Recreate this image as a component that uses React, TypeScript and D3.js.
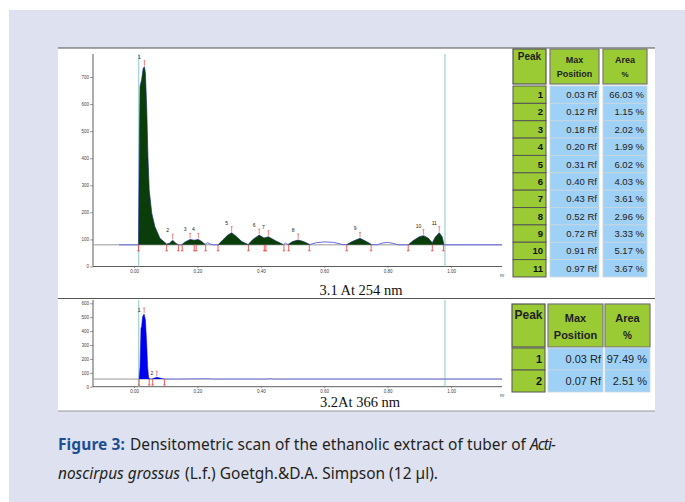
import React, { useEffect, useRef } from "react";
import * as d3 from "d3";

// 254 nm scan (Rf, AU)
const rf254 = [-0.047, 0.014, 0.017, 0.019, 0.024, 0.029, 0.033, 0.036, 0.040, 0.044, 0.048, 0.056, 0.066, 0.082, 0.103,
  0.112, 0.122, 0.132, 0.140, 0.150, 0.160, 0.177, 0.190, 0.203, 0.214, 0.224, 0.232, 0.240, 0.250, 0.265,
  0.280, 0.295, 0.308, 0.322, 0.340, 0.360, 0.375, 0.395, 0.410, 0.424, 0.445, 0.471, 0.478, 0.486,
  0.500, 0.518, 0.535, 0.555, 0.575, 0.600, 0.630, 0.659, 0.671, 0.690, 0.713, 0.730, 0.750,
  0.766, 0.785, 0.800, 0.815, 0.834, 0.865, 0.880, 0.900, 0.913, 0.928, 0.941, 0.950, 0.963, 0.972, 0.978, 1.161];
const au254 = [80, 80, 470, 665, 690, 732, 738, 714, 590, 406, 283, 197, 147, 104, 83,
  86, 97, 86, 80, 80, 90, 100, 97, 100, 92, 82, 88, 83, 80, 80,
  98, 115, 125, 112, 92, 81, 100, 116, 105, 110, 96, 81, 86, 81,
  92, 98, 92, 81, 88, 91, 89, 81, 81, 93, 104, 94, 81,
  80, 87, 89, 86, 80, 80, 95, 110, 114, 105, 88, 108, 125, 110, 80, 80];
const zones254 = [[0.014, 0.103], [0.103, 0.140], [0.150, 0.224], [0.265, 0.360], [0.360, 0.471],
  [0.486, 0.555], [0.671, 0.750], [0.865, 0.978]];
const cuts254 = [0.014, 0.103, 0.140, 0.152, 0.190, 0.196, 0.226, 0.265, 0.361, 0.411, 0.416, 0.473,
  0.488, 0.553, 0.671, 0.748, 0.865, 0.941, 0.976];
const peakNo254 = ["1", "2", "3", "4", "5", "6", "7", "8", "9", "10", "11"];
const peakRf254 = [0.033, 0.122, 0.177, 0.203, 0.308, 0.395, 0.424, 0.518, 0.713, 0.913, 0.963];
const peakAU254 = [738, 97, 100, 100, 125, 116, 110, 98, 104, 114, 125];
const maxPos254 = ["0.03 Rf", "0.12 Rf", "0.18 Rf", "0.20 Rf", "0.31 Rf", "0.40 Rf", "0.43 Rf", "0.52 Rf", "0.72 Rf", "0.91 Rf", "0.97 Rf"];
const area254 = ["66.03 %", "1.15 %", "2.02 %", "1.99 %", "6.02 %", "4.03 %", "3.61 %", "2.96 %", "3.33 %", "5.17 %", "3.67 %"];

// 366 nm scan
const rf366 = [0.016, 0.019, 0.022, 0.024, 0.027, 0.032, 0.036, 0.040, 0.043, 0.046, 0.050, 0.056, 0.064, 0.072,
  0.082, 0.096, 0.140, 0.230, 0.250, 0.420, 0.430, 0.440, 1.161];
const au366 = [55, 144, 422, 432, 504, 523, 480, 312, 144, 68, 55, 55, 62, 68, 62, 55, 55, 58, 55, 55, 59, 55, 55];
const zones366 = [[0.016, 0.050], [0.056, 0.096]];
const cuts366 = [0.016, 0.048, 0.059, 0.096];
const peakNo366 = ["1", "2"];
const peakRf366 = [0.032, 0.072];
const peakAU366 = [523, 68];
const maxPos366 = ["0.03 Rf", "0.07 Rf"];
const area366 = ["97.49 %", "2.51 %"];

const xTicks = [0, 0.2, 0.4, 0.6, 0.8, 1.0];
const yTicks254 = [0, 100, 200, 300, 400, 500, 600, 700];
const yTicks366 = [0, 100, 200, 300, 400, 500, 600];
const frontRf = [0.015, 0.981];

const SANS = "'Liberation Sans', Arial, sans-serif";
const CAP = "'Noto Sans', 'Open Sans', sans-serif";

const App = () => {
  const ref = useRef(null);

  useEffect(() => {
    document.body.style.margin = "0";
    const svg = d3.select(ref.current);
    svg.selectAll("*").remove();

    svg.append("rect").attr("x", 9).attr("y", 10).attr("width", 676).attr("height", 492).attr("fill", "#dee1ef");
    svg.append("rect").attr("x", 58).attr("y", 48).attr("width", 597).attr("height", 363).attr("fill", "#fff");
    svg.append("line").attr("x1", 58).attr("x2", 655).attr("y1", 48).attr("y2", 48).attr("stroke", "#555").attr("stroke-width", 1.2);
    svg.append("line").attr("x1", 58).attr("x2", 655).attr("y1", 298.5).attr("y2", 298.5).attr("stroke", "#555").attr("stroke-width", 1.2);
    svg.append("line").attr("x1", 58).attr("x2", 655).attr("y1", 411).attr("y2", 411).attr("stroke", "#999").attr("stroke-width", 1);

    const x = d3.scaleLinear().domain([0, 1]).range([134, 451]);

    const drawScan = (opts) => {
      const { y, top, rfs, aus, zones, cuts, base, fill, nos, pRf, pAU, yTicks, dx, dy, line } = opts;
      const g = svg.append("g");
      const y0 = y(0);
      // axes
      g.append("line").attr("x1", 93).attr("x2", 93).attr("y1", top).attr("y2", y0).attr("stroke", "#333").attr("stroke-width", 0.8);
      g.append("line").attr("x1", 93).attr("x2", 502).attr("y1", y0).attr("y2", y0).attr("stroke", "#333").attr("stroke-width", 0.8);
      const ya = g.append("g").attr("transform", "translate(93,0)")
        .call(d3.axisLeft(y).tickValues(yTicks).tickSize(3).tickSizeOuter(0));
      ya.select(".domain").remove();
      ya.selectAll("line").attr("stroke", "#555").attr("stroke-width", 0.6);
      ya.selectAll("text").attr("font-size", 4.5).attr("font-family", SANS).attr("fill", "#444").attr("x", -4);
      const xa = g.append("g").attr("transform", `translate(0,${y0})`)
        .call(d3.axisBottom(x).tickValues(xTicks).tickFormat(d3.format(".2f")).tickSize(1.5).tickSizeOuter(0));
      xa.select(".domain").remove();
      xa.selectAll("line").attr("stroke", "#555").attr("stroke-width", 0.6);
      xa.selectAll("text").attr("font-size", 4.5).attr("font-family", SANS).attr("fill", "#444").attr("y", 3);
      g.append("text").attr("x", 500).attr("y", y0 + 10).attr("font-size", 4).attr("font-family", SANS).attr("fill", "#444").text("Rf");

      // start / front lines
      frontRf.forEach((r) => {
        g.append("line").attr("x1", x(r)).attr("x2", x(r)).attr("y1", top).attr("y2", y0)
          .attr("stroke", "#8cc8c8").attr("stroke-width", 1);
      });
      // baseline
      g.append("line").attr("x1", 93).attr("x2", 502).attr("y1", y(base)).attr("y2", y(base))
        .attr("stroke", "#999").attr("stroke-width", 1);

      const pts = rfs.map((r, i) => [r, aus[i]]);
      g.append("path").datum(pts)
        .attr("d", d3.line().x((d) => x(d[0])).y((d) => y(d[1])))
        .attr("fill", "none").attr("stroke", line).attr("stroke-width", 1);

      const area = d3.area().x((d) => x(d[0])).y0(y(base)).y1((d) => y(d[1]));
      zones.forEach(([a, b]) => {
        g.append("path").datum(pts.filter((d) => d[0] >= a && d[0] <= b))
          .attr("d", area).attr("fill", fill);
      });

      // red markers
      cuts.forEach((c) => {
        const cx = x(c), by = y(base);
        g.append("path").attr("d", `M${cx},${by}V${by + 6}M${cx - 1.2},${by + 6}H${cx + 1.2}`)
          .attr("stroke", "#e33").attr("stroke-width", 0.8).attr("fill", "none");
      });
      pRf.forEach((r, i) => {
        const px = x(r), py = y(pAU[i]);
        g.append("path").attr("d", `M${px},${py - 1}V${py - 6}M${px - 1},${py - 6}H${px + 1}`)
          .attr("stroke", "#e55").attr("stroke-width", 0.7).attr("fill", "none");
        g.append("text").attr("x", px + dx).attr("y", py + dy).attr("font-size", 5)
          .attr("font-family", SANS).attr("fill", "#222").attr("text-anchor", "middle").text(nos[i]);
      });
    };

    const y254 = d3.scaleLinear().domain([0, 700]).range([266.5, 77]);
    drawScan({ y: y254, top: 54, rfs: rf254, aus: au254, zones: zones254, cuts: cuts254, base: 80,
      fill: "#0b3d0b", nos: peakNo254, pRf: peakRf254, pAU: peakAU254, yTicks: yTicks254, dx: -5, dy: -8, line: "#6a6ae6" });

    const y366 = d3.scaleLinear().domain([0, 600]).range([386.7, 303.3]);
    drawScan({ y: y366, top: 300, rfs: rf366, aus: au366, zones: zones366, cuts: cuts366, base: 55,
      fill: "#0000ee", nos: peakNo366, pRf: peakRf366, pAU: peakAU366, yTicks: yTicks366, dx: -5, dy: -2, line: "#8080ea" });

    svg.append("text").attr("x", 361).attr("y", 295).attr("text-anchor", "middle")
      .attr("font-family", "'Liberation Serif', 'Times New Roman', serif").attr("font-size", 14.5).attr("fill", "#111")
      .text("3.1 At 254 nm");
    svg.append("text").attr("x", 360).attr("y", 407).attr("text-anchor", "middle")
      .attr("font-family", "'Liberation Serif', 'Times New Roman', serif").attr("font-size", 14.5).attr("fill", "#111")
      .text("3.2At 366 nm");

    // tables
    const drawTable = (t) => {
      const g = svg.append("g").attr("font-family", SANS);
      const green = "#9acb34", blue = "#9fd1f6";
      const cols = [t.peak, t.max, t.area];
      cols.forEach((c, ci) => {
        g.append("rect").attr("x", c[0]).attr("y", t.head[0]).attr("width", c[1] - c[0]).attr("height", t.head[1] - t.head[0])
          .attr("fill", green).attr("stroke", ci === 0 ? "#555" : "#777").attr("stroke-width", 1.2);
      });
      const hx = (c) => (c[0] + c[1]) / 2;
      g.append("text").attr("x", hx(t.peak)).attr("y", t.hb[0] - 3).attr("text-anchor", "middle")
        .attr("font-weight", "bold").attr("font-size", t.hf + 1).attr("fill", "#222").text("Peak");
      g.append("text").attr("x", hx(t.max)).attr("y", t.hb[0]).attr("text-anchor", "middle")
        .attr("font-weight", "bold").attr("font-size", t.hf).attr("fill", "#222").text("Max");
      g.append("text").attr("x", hx(t.max)).attr("y", t.hb[1]).attr("text-anchor", "middle")
        .attr("font-weight", "bold").attr("font-size", t.hf).attr("fill", "#222").text("Position");
      g.append("text").attr("x", hx(t.area)).attr("y", t.hb[0]).attr("text-anchor", "middle")
        .attr("font-weight", "bold").attr("font-size", t.hf).attr("fill", "#222").text("Area");
      g.append("text").attr("x", hx(t.area)).attr("y", t.hb[1]).attr("text-anchor", "middle")
        .attr("font-weight", "bold").attr("font-size", t.hf - 1).attr("fill", "#222").text("%");
      t.nos.forEach((n, i) => {
        const ry = t.row0 + i * t.rowH;
        g.append("rect").attr("x", t.peak[0]).attr("y", ry).attr("width", t.peak[1] - t.peak[0]).attr("height", t.rowH)
          .attr("fill", green).attr("stroke", "#555").attr("stroke-width", 1);
        g.append("rect").attr("x", t.max[0]).attr("y", ry).attr("width", t.max[1] - t.max[0]).attr("height", t.rowH)
          .attr("fill", blue).attr("stroke", "#c9d6e0").attr("stroke-width", 0.8);
        g.append("rect").attr("x", t.area[0]).attr("y", ry).attr("width", t.area[1] - t.area[0]).attr("height", t.rowH)
          .attr("fill", blue).attr("stroke", "#c9d6e0").attr("stroke-width", 0.8);
        const by = ry + t.rowH / 2 + t.vf * 0.36;
        g.append("text").attr("x", t.peak[1] - 3).attr("y", by).attr("text-anchor", "end")
          .attr("font-weight", "bold").attr("font-size", t.vf).attr("fill", "#111").text(n);
        g.append("text").attr("x", t.max[1] - 2).attr("y", by).attr("text-anchor", "end")
          .attr("font-size", t.vf).attr("fill", "#222").text(t.pos[i]);
        g.append("text").attr("x", t.area[1] - 3).attr("y", by).attr("text-anchor", "end")
          .attr("font-size", t.vf).attr("fill", "#222").text(t.ar[i]);
      });
    };

    drawTable({ peak: [513, 546], max: [550, 599], area: [603, 647], head: [49, 84], hb: [63, 77], hf: 9,
      row0: 86, rowH: 17.36, vf: 9.5, nos: peakNo254, pos: maxPos254, ar: area254 });
    drawTable({ peak: [512, 545], max: [548, 603], area: [605, 650], head: [304, 347], hb: [322, 339], hf: 11,
      row0: 348, rowH: 22, vf: 11, nos: peakNo366, pos: maxPos366, ar: area366 });

    // caption: one font size per line, letter-spacing trims each run to its width
    const capLine = (y, parts) => {
      const nodes = parts.map(([x0, , s, style]) => {
        const t = svg.append("text").attr("x", x0).attr("y", y).attr("font-family", CAP).attr("font-size", 17)
          .attr("fill", style === "bold" ? "#1b4f93" : "#231f20").text(s);
        if (style === "bold") t.attr("font-weight", "bold");
        if (style === "italic") t.attr("font-style", "italic");
        return t;
      });
      const want = d3.sum(parts, (p) => p[1] - p[0]);
      const got = d3.sum(nodes, (n) => n.node().getComputedTextLength());
      const fs = Math.min(18, 17 * want / got);
      nodes.forEach((n, i) => {
        n.attr("font-size", fs);
        const w = n.node().getComputedTextLength();
        const s = parts[i][2];
        n.attr("letter-spacing", ((parts[i][1] - parts[i][0]) - w) / s.length);
      });
    };
    capLine(450, [[58, 125, "Figure 3:", "bold"],
      [130, 526, "Densitometric scan of the ethanolic extract of tuber of", "normal"],
      [530, 555, "Acti-", "italic"]]);
    capLine(479, [[58, 180, "noscirpus grossus", "italic"],
      [185, 438, "(L.f.) Goetgh.&D.A. Simpson (12 µl).", "normal"]]);
  }, []);

  return <svg ref={ref} width={685} height={502} style={{ display: "block" }}></svg>;
};

export default App;
